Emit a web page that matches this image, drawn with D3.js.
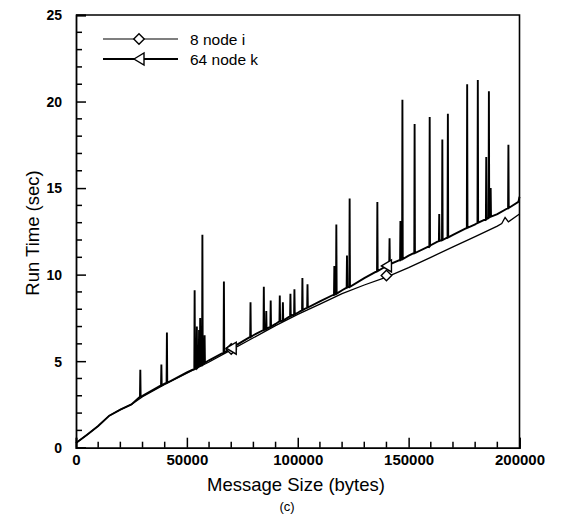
<!DOCTYPE html>
<html>
<head>
<meta charset="utf-8">
<script src="https://cdn.jsdelivr.net/npm/d3@7"></script>
<style>
  body { margin: 0; background: #fff; }
  svg { display: block; font-family: "Liberation Sans", Arial, Helvetica, sans-serif; }
  text { fill: #000; }
</style>
</head>
<body>
<svg id="chart" width="561" height="525"></svg>
<script>
// Values (c)
const xTicks = [0, 50000, 100000, 150000, 200000];
const yTicks = [0, 5, 10, 15, 20, 25];

// 8 node i : smooth curve
const iSizes = [0, 5000, 10000, 15000, 20000, 25000, 30000, 40000, 50000, 60000, 70000, 80000, 90000,
                100000, 110000, 120000, 130000, 140000, 150000, 160000, 170000, 180000, 190000, 192000, 193500, 195000, 200000];
const iTimes = [0.27, 0.75, 1.25, 1.85, 2.2, 2.5, 2.95, 3.65, 4.3, 4.95, 5.65, 6.35, 7.05,
                7.7, 8.3, 8.9, 9.4, 9.85, 10.4, 11.0, 11.6, 12.2, 12.8, 12.95, 13.3, 13.05, 13.5];

// 64 node k : base curve plus the spikes
const kSizes = [0, 5000, 10000, 15000, 20000, 25000, 30000, 40000, 50000, 60000, 70000, 80000, 90000,
                100000, 110000, 120000, 130000, 140000, 150000, 160000, 170000, 180000, 190000, 199500, 200000];
const kTimes = [0.27, 0.75, 1.25, 1.85, 2.2, 2.5, 3.0, 3.7, 4.35, 5.05, 5.75, 6.5, 7.15,
                7.8, 8.45, 9.1, 9.8, 10.5, 11.1, 11.7, 12.3, 12.9, 13.5, 14.2, 14.5];

const spikeSizes = [29000, 38500, 41000, 53500, 54500, 55500, 56000, 57000, 58000, 66700, 78700, 84700, 85800,
                    87800, 91900, 93300, 96700, 98500, 102100, 104400, 116500, 117400, 122200, 123400, 135900,
                    141400, 146300, 147200, 152700, 159500, 163800, 165200, 167700, 176400, 181200, 185000,
                    186200, 187000, 195000];
const spikeBases = [2.95, 3.6, 3.75, 4.55, 4.6, 4.7, 4.75, 4.8, 4.9, 5.5, 6.4, 6.8, 6.85,
                    7.0, 7.3, 7.35, 7.6, 7.7, 7.95, 8.1, 8.85, 8.9, 9.25, 9.3, 10.2,
                    10.6, 10.85, 10.9, 11.25, 11.65, 11.95, 12.0, 12.15, 12.7, 13.0, 13.2,
                    13.3, 13.35, 13.85];
const spikePeaks = [4.5, 4.8, 6.65, 9.1, 7.0, 6.8, 7.5, 12.3, 6.5, 9.6, 8.4, 9.3, 7.9,
                    8.5, 8.8, 8.4, 8.9, 9.15, 9.8, 9.45, 10.5, 12.9, 11.1, 14.4, 14.2,
                    12.1, 13.1, 20.1, 18.7, 19.1, 13.5, 17.8, 19.3, 21.0, 21.25, 16.8,
                    20.6, 15.0, 17.5];

// symbol positions
const iMarkSizes = [70000, 140000];
const iMarkTimes = [5.7, 9.95];
const kMarkSizes = [70000, 140000];
const kMarkTimes = [5.75, 10.5];

const seriesNames = ["8 node i", "64 node k"];

// Layout
const svg = d3.select("#chart");
const plotLeft = 76, plotRight = 519.5, plotTop = 15, plotBottom = 447.7;

const x = d3.scaleLinear().domain([0, 200000]).range([plotLeft, plotRight]);
const y = d3.scaleLinear().domain([0, 25]).range([plotBottom, plotTop]);

// Build the spiky series (base points + spike triples, sorted by size)
const spikeHalf = 150;
var kPoints = kSizes.map((s, i) => [s, kTimes[i]]);
spikeSizes.forEach((s, i) => {
    kPoints.push([s - spikeHalf, spikeBases[i]]);
    kPoints.push([s, spikePeaks[i]]);
    kPoints.push([s + spikeHalf, spikeBases[i]]);
});
kPoints.sort((a, b) => a[0] - b[0]);
const iPoints = iSizes.map((s, i) => [s, iTimes[i]]);

const line = d3.line()
    .x(d => x(d[0]))
    .y(d => y(d[1]));

// Lines
svg.append("path")
    .attr("d", line(iPoints))
    .attr("fill", "none")
    .attr("stroke", "#000")
    .attr("stroke-width", 1.3);

svg.append("path")
    .attr("d", line(kPoints))
    .attr("fill", "none")
    .attr("stroke", "#000")
    .attr("stroke-width", 1.9)
    .attr("stroke-linejoin", "miter");

// Markers
const diamond = d3.symbol().type(d3.symbolDiamond2).size(70);
function triangleLeft(cx, cy) {
    return "M" + (cx - 5) + "," + cy + "L" + (cx + 5) + "," + (cy - 6) + "L" + (cx + 5) + "," + (cy + 6) + "Z";
}

svg.selectAll(".i-mark")
    .data(iMarkSizes)
    .join("path")
    .attr("class", "i-mark")
    .attr("d", diamond)
    .attr("transform", (d, i) => "translate(" + x(d) + "," + y(iMarkTimes[i]) + ")")
    .attr("fill", "#fff")
    .attr("stroke", "#000")
    .attr("stroke-width", 1.4);

svg.selectAll(".k-mark")
    .data(kMarkSizes)
    .join("path")
    .attr("class", "k-mark")
    .attr("d", (d, i) => triangleLeft(x(d), y(kMarkTimes[i])))
    .attr("fill", "#fff")
    .attr("stroke", "#000")
    .attr("stroke-width", 1.4);

// Frame (top + right)
svg.append("path")
    .attr("d", "M" + plotLeft + "," + plotTop + "H" + plotRight + "V" + plotBottom)
    .attr("fill", "none")
    .attr("stroke", "#000")
    .attr("stroke-width", 1.6);

// Axes, ticks pointing inward
const xAxis = d3.axisBottom(x)
    .tickValues(xTicks)
    .tickSize(-10)
    .tickPadding(7)
    .tickFormat(d3.format("d"));

const yAxis = d3.axisLeft(y)
    .tickValues(yTicks)
    .tickSize(-10)
    .tickPadding(14)
    .tickFormat(d3.format("d"));

const gx = svg.append("g")
    .attr("transform", "translate(0," + plotBottom + ")")
    .call(xAxis);
const gy = svg.append("g")
    .attr("transform", "translate(" + plotLeft + ",0)")
    .call(yAxis);

// minor ticks
const xMinor = d3.range(10000, 200000, 10000).filter(v => v % 50000 !== 0);
const yMinor = d3.range(1, 25, 1).filter(v => v % 5 !== 0);
gx.selectAll(".minor")
    .data(xMinor)
    .join("line")
    .attr("class", "minor")
    .attr("x1", d => x(d)).attr("x2", d => x(d))
    .attr("y1", 0).attr("y2", -6);
gy.selectAll(".minor")
    .data(yMinor)
    .join("line")
    .attr("class", "minor")
    .attr("y1", d => y(d)).attr("y2", d => y(d))
    .attr("x1", 0).attr("x2", 6);

[gx, gy].forEach(g => {
    g.select(".domain").attr("stroke", "#000").attr("stroke-width", 1.8);
    g.selectAll("line").attr("stroke", "#000").attr("stroke-width", 1.5);
    g.selectAll("text")
        .attr("fill", "#000")
        .style("font-family", "'Liberation Sans', Arial, sans-serif")
        .style("font-weight", "bold");
});
gx.selectAll("text").style("font-size", "15px");
gy.selectAll("text").style("font-size", "14px").attr("dy", "0.35em");

// Axis titles
svg.append("text")
    .attr("x", 296)
    .attr("y", 491)
    .attr("text-anchor", "middle")
    .attr("fill", "#000")
    .style("font-size", "18.5px")
    .text("Message Size (bytes)");

svg.append("text")
    .attr("transform", "translate(39,233) rotate(-90)")
    .attr("text-anchor", "middle")
    .attr("fill", "#000")
    .style("font-size", "18.5px")
    .text("Run Time (sec)");

svg.append("text")
    .attr("x", 287)
    .attr("y", 511)
    .attr("text-anchor", "middle")
    .attr("fill", "#000")
    .style("font-size", "13px")
    .text("(c)");

// Legend
const legend = svg.append("g");
const legendY = [39, 59];
seriesNames.forEach((name, i) => {
    const g = legend.append("g");
    g.append("line")
        .attr("x1", 103).attr("x2", 178)
        .attr("y1", legendY[i]).attr("y2", legendY[i])
        .attr("stroke", "#000")
        .attr("stroke-width", i === 0 ? 1.1 : 1.8);
    if (i === 0) {
        g.append("path")
            .attr("d", diamond)
            .attr("transform", "translate(139," + legendY[i] + ")")
            .attr("fill", "#fff").attr("stroke", "#000").attr("stroke-width", 1.4);
    } else {
        g.append("path")
            .attr("d", triangleLeft(139, legendY[i]))
            .attr("fill", "#fff").attr("stroke", "#000").attr("stroke-width", 1.4);
    }
    g.append("text")
        .attr("x", 190)
        .attr("y", legendY[i] + 5.5)
        .attr("fill", "#000")
        .style("font-size", "15.5px")
        .text(name);
});
</script>
</body>
</html>
